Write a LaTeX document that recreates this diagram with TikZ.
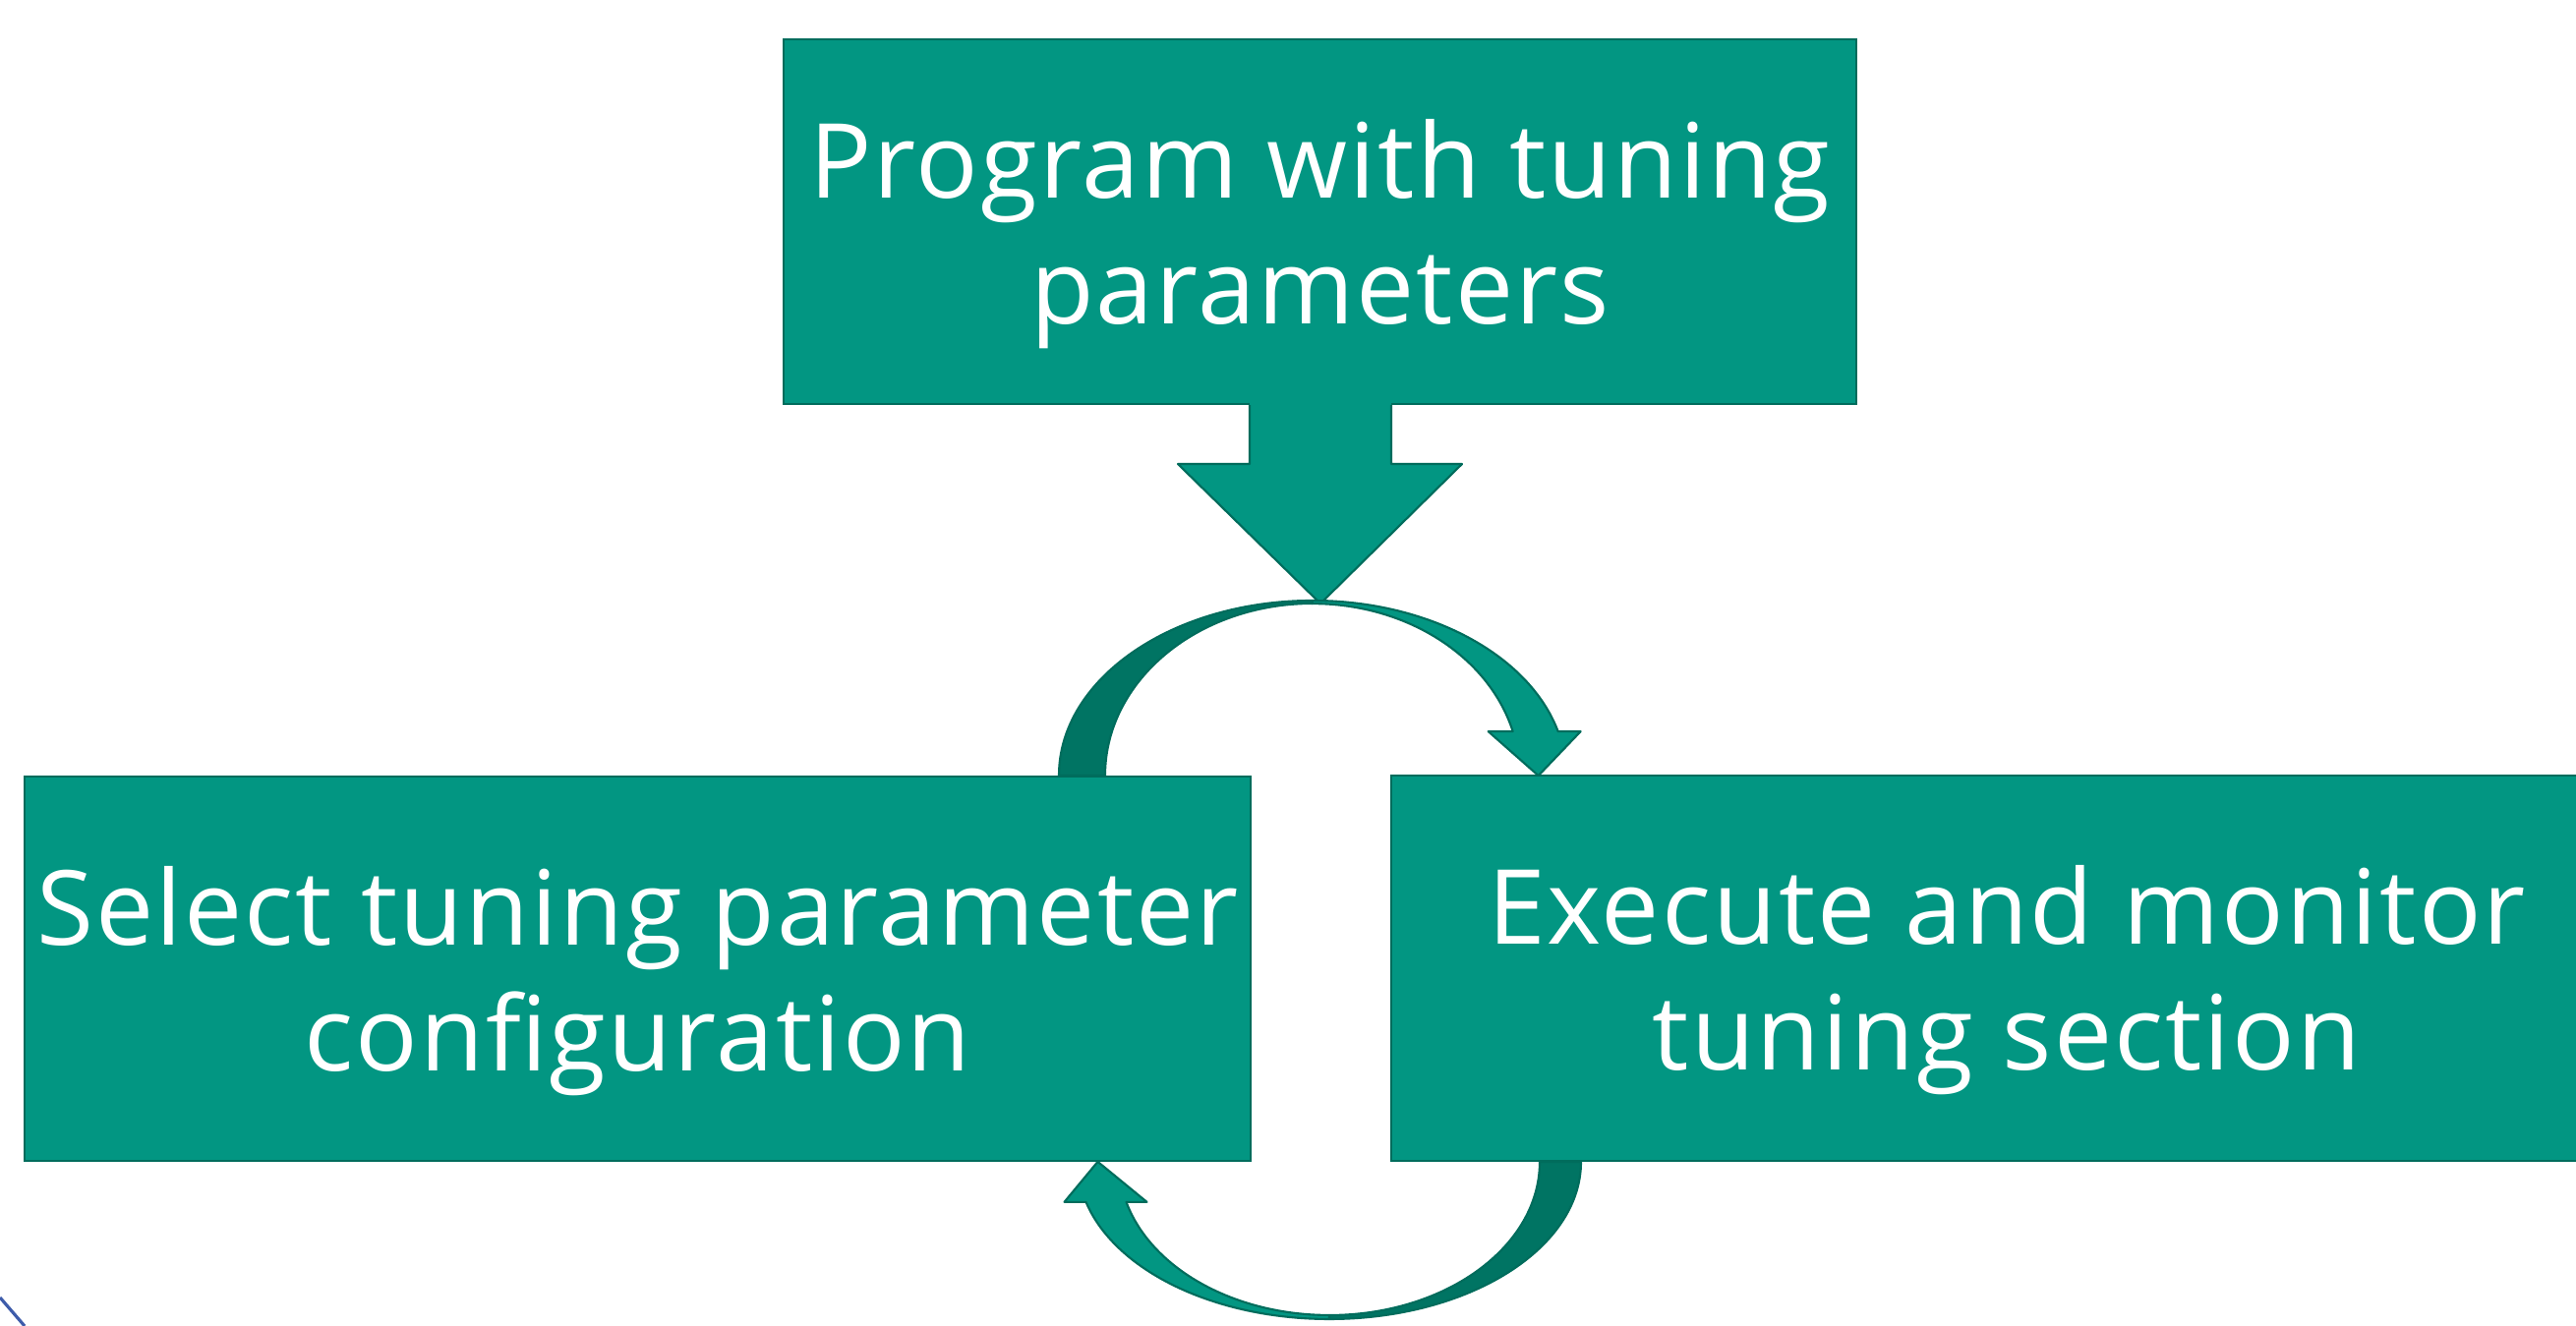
\documentclass[tikz,border=0pt]{standalone}
\usepackage{fontspec}
\setmainfont{Open Sans}[LetterSpace=2.0]
\usepackage{xcolor}

\definecolor{tealbox}{RGB}{2,150,130}
\definecolor{tealback}{RGB}{0,116,99}
\definecolor{tealline}{RGB}{0,108,92}
\definecolor{cornerblue}{RGB}{62,92,170}
% extra height on the first line, to sit the text a little lower
\newcommand{\topline}{\rule{0pt}{1.05cm}}

\begin{document}
\begin{tikzpicture}[
    stage/.style={fill=tealbox, draw=tealline, line width=0.6pt, text=white,
        align=center, inner sep=0pt, font=\fontsize{30}{36.4}\selectfont},
    front/.style={fill=tealbox, draw=tealline, line width=0.6pt, line join=round},
    back/.style={fill=tealback, draw=tealline, line width=0.6pt, line join=round}]
                        \useasboundingbox (0, 0) rectangle (26.2, 13.49);
                        \clip (0, 0) rectangle (26.2, 13.49);
                        % the three stages
                        \node[stage, minimum width=10.91cm, minimum height=3.71cm] (program) at (13.425, 11.235)
                            {\topline Program with tuning\\parameters};
                        \node[stage, minimum width=12.47cm, minimum height=3.91cm] (select) at (6.485, 3.635)
                            {\topline Select tuning parameter\\configuration};
                        \node[stage, minimum width=12.52cm, minimum height=3.92cm] (execute) at (20.41, 3.64)
                            {\topline Execute and monitor\\tuning section};
                        \coordinate (topc) at (13.35, 5.60);
                        \coordinate (botc) at (13.52, 1.67);
                        % down arrow out of the program box
                        \fill[tealbox]
                        (program.south) ++(-0.715, 0.04) -- ++(0, -0.64) -- ++(-0.73, 0)
                        -- ++(1.45, -1.42) -- ++(1.44, 1.42) -- ++(-0.72, 0) -- ++(0, 0.64) -- cycle;
                        \draw[tealline, line width=0.6pt, line join=round]
                        (program.south) ++(-0.715, 0) -- ++(0, -0.60) -- ++(-0.73, 0)
                        -- ++(1.45, -1.42) -- ++(1.44, 1.42) -- ++(-0.72, 0) -- ++(0, 0.60);
                        % cycle arrow from select to execute
                        \draw[back]
                        (topc) ++(-2.58, 0) arc[start angle=180, end angle=90, x radius=2.58, y radius=1.78]
                        -- ++(0, -0.03) arc[start angle=90, end angle=180, x radius=2.11, y radius=1.75] -- cycle;
                        \draw[front]
                        (topc) ++(0, 1.78) arc[start angle=90, end angle=14.6, x radius=2.58, y radius=1.78]
                        -- ++(0.23, 0) -- ++(-0.43, -0.45) -- ++(-0.51, 0.45) -- ++(0.25, 0)
                        arc[start angle=14.9, end angle=90, x radius=2.11, y radius=1.75] -- cycle;
                        % cycle arrow from execute back to select
                        \draw[back]
                        (botc) ++(2.56, 0) arc[start angle=0, end angle=-90, x radius=2.56, y radius=1.60]
                        -- ++(0, 0.04) arc[start angle=-90, end angle=0, x radius=2.14, y radius=1.56] -- cycle;
                        \draw[front]
                        (botc) ++(0, -1.60) arc[start angle=270, end angle=194.8, x radius=2.56, y radius=1.60]
                        -- ++(-0.22, 0) -- ++(0.34, 0.41) -- ++(0.50, -0.41) -- ++(-0.21, 0)
                        arc[start angle=195.2, end angle=270, x radius=2.14, y radius=1.56] -- cycle;
                        % bit of a shape cut off in the corner
                        \draw[cornerblue, line width=0.9pt] (0, 0.29) -- (0.25, 0);
                    \end{tikzpicture}
\end{document}
